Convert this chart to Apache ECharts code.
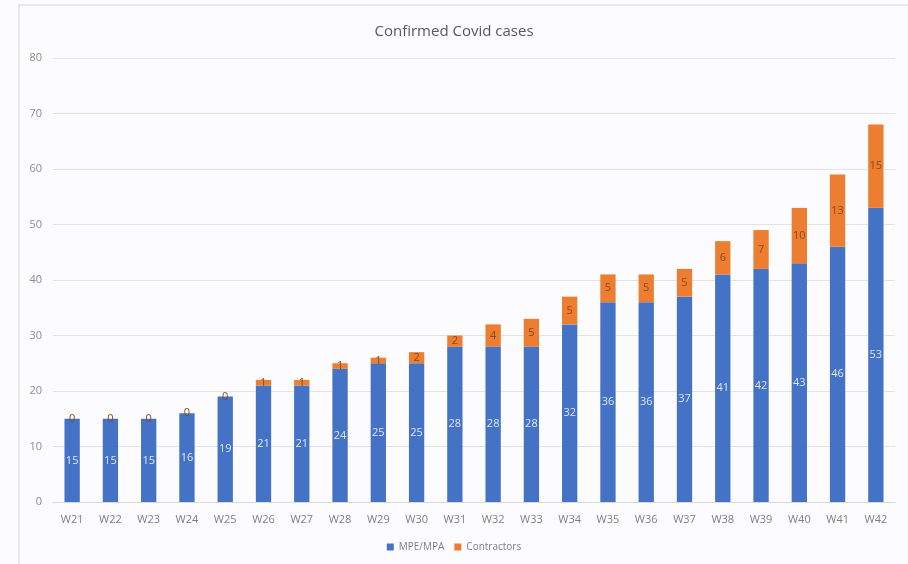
<!DOCTYPE html>
<html><head><meta charset="utf-8">
<script src="https://cdn.jsdelivr.net/npm/echarts@6/dist/echarts.min.js"></script>
<style>html,body{margin:0;padding:0;background:#fcfbfd;}#c{width:908px;height:564px;}</style>
</head><body><div id="c"></div>
<script>
var categories = ['W21','W22','W23','W24','W25','W26','W27','W28','W29','W30','W31','W32','W33','W34','W35','W36','W37','W38','W39','W40','W41','W42'];
var mpeValues = [15,15,15,16,19,21,21,24,25,25,28,28,28,32,36,36,37,41,42,43,46,53];
var contractorValues = [0,0,0,0,0,1,1,1,1,2,2,4,5,5,5,5,5,6,7,10,13,15];
var yTicks = [0,10,20,30,40,50,60,70,80];

var chart = echarts.init(document.getElementById('c'));
chart.setOption({
  backgroundColor: '#fcfbfd',
  animation: false,
  graphic: [{type:'rect', shape:{x:19, y:5, width:900, height:570}, style:{fill:'none', stroke:'#e2e1e4', lineWidth:1.5}}],
  title: {text:'Confirmed Covid cases', left:'center', top:19, textStyle:{fontFamily:'Open Sans', fontSize:15, fontWeight:'normal', color:'#595959'}},
  grid: {left:53, right:13, top:58, bottom:62, containLabel:false},
  legend: {bottom:7, left:'center', itemWidth:7, itemHeight:7, itemGap:10, icon:'rect', textStyle:{fontFamily:'Open Sans', fontSize:10, color:'#7f7f7f'}, data:['MPE/MPA','Contractors']},
  xAxis: {type:'category', data:categories, axisTick:{show:false}, axisLine:{lineStyle:{color:'#d9d9d9'}}, axisLabel:{fontFamily:'Open Sans', fontSize:11, color:'#7f7f7f', margin:12}},
  yAxis: {type:'value', min:yTicks[0], max:yTicks[yTicks.length-1], interval:10, axisLine:{show:false}, axisTick:{show:false}, splitLine:{lineStyle:{color:'#e3e3e3'}}, axisLabel:{fontFamily:'Open Sans', fontSize:11, color:'#8c8c8c', margin:11}},
  series: [
    {name:'MPE/MPA', type:'bar', stack:'t', data:mpeValues, barWidth:'40%', itemStyle:{color:'#4472c4'}, label:{show:true, position:'inside', color:'#dfe6f5', fontFamily:'Open Sans', fontSize:11}},
    {name:'Contractors', type:'bar', stack:'t', data:contractorValues, barWidth:'40%', itemStyle:{color:'#ed7d31'}, label:{show:true, position:'inside', color:'#8a4a1c', fontFamily:'Open Sans', fontSize:11}}
  ]
});
</script></body></html>
